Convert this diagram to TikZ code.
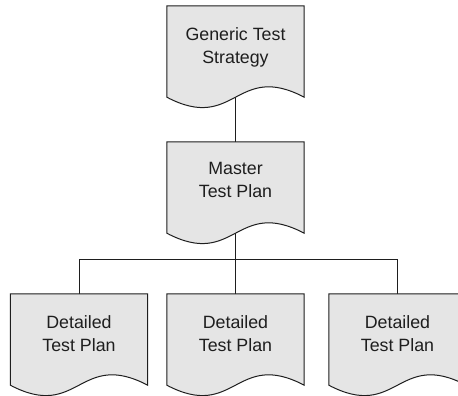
\documentclass[tikz,border=0pt]{standalone}
\usepackage{fontspec}
\setmainfont{Liberation Sans}
\usetikzlibrary{calc}
\definecolor{docfill}{HTML}{E5E5E5}
\definecolor{ink}{HTML}{1E1E1E}
\tikzset{
  x=1pt, y=1pt,
  docbox/.style={rectangle, minimum width=137pt, minimum height=91pt, inner sep=0pt, draw=none},
  doctext/.style={align=center, text=ink, inner sep=0pt, font=\fontsize{17.8}{23}\selectfont},
  docline/.style={draw=ink, line width=1pt, fill=docfill, line join=miter},
  link/.style={draw=ink, line width=1pt}
}
% document shape: straight top and sides, wavy bottom edge
\newcommand\docshape[1]{%
  \path[docline] (#1.north west) -- (#1.south west)
    .. controls +(68.5,-36) and +(-68.5,36) .. (#1.south east)
    -- (#1.north east) -- cycle;}
\begin{document}
\begin{tikzpicture}
\useasboundingbox (0,0) rectangle (458,396);

\node[docbox] (gts) at (235.5,344.5) {};
\node[docbox] (mtp) at (235.5,208.5) {};
\node[docbox] (dtpa) at (79,56.5) {};
\node[docbox] (dtpb) at (235.5,56.5) {};
\node[docbox] (dtpc) at (397.5,56.5) {};

\coordinate (bus) at (235.5,136.5);

% connectors
\draw[link] (gts.south) -- (mtp.north);
\draw[link] (mtp.south) -- (bus);
\draw[link] (dtpa.north) |- (bus) -| (dtpc.north);
\draw[link] (bus) -- (dtpb.north);

\docshape{gts}
\docshape{mtp}
\docshape{dtpa}
\docshape{dtpb}
\docshape{dtpc}

\node[doctext] (gtst) at (235.5,349) {Generic Test\\Strategy};
\node[doctext] (mtpt) at (235.5,216.5) {Master\\Test Plan};
\node[doctext] (dtpat) at (79,62) {Detailed\\Test Plan};
\node[doctext] (dtpbt) at (235.5,62) {Detailed\\Test Plan};
\node[doctext] (dtpct) at (397.5,62) {Detailed\\Test Plan};
\end{tikzpicture}
\end{document}
